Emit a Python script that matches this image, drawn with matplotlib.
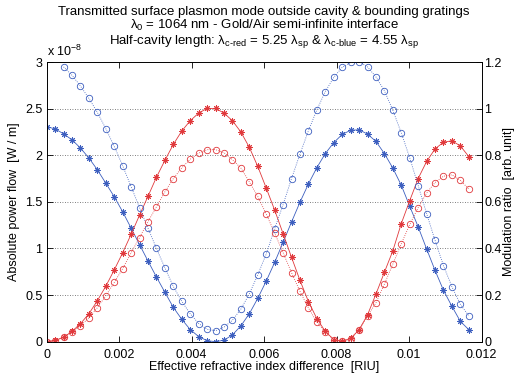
import numpy as np
import matplotlib
matplotlib.use("Agg")
import matplotlib.pyplot as plt

plt.rcParams['font.family'] = ['Liberation Sans', 'DejaVu Sans']
plt.rcParams['mathtext.fontset'] = 'custom'
plt.rcParams['mathtext.rm'] = 'Liberation Sans'
plt.rcParams['mathtext.it'] = 'Liberation Sans'

# Effective refractive index difference [RIU]
dn = [0, 0.000233, 0.000466, 0.000699, 0.000932, 0.001165, 0.001398, 0.001631,
      0.001864, 0.002097, 0.00233, 0.002563, 0.002796, 0.003029, 0.003262,
      0.003495, 0.003728, 0.003961, 0.004194, 0.004427, 0.00466, 0.004893,
      0.005126, 0.005359, 0.005592, 0.005825, 0.006058, 0.006291, 0.006524,
      0.006757, 0.00699, 0.007223, 0.007456, 0.007689, 0.007922, 0.008155,
      0.008388, 0.008621, 0.008854, 0.009087, 0.00932, 0.009553, 0.009786,
      0.010019, 0.010252, 0.010485, 0.010718, 0.010951, 0.011184, 0.011417,
      0.01165]

# Absolute power flow [x1e-8 W/m]
power_blue = [2.305, 2.283, 2.229, 2.165, 2.077, 1.970, 1.844, 1.700, 1.555, 1.393,
              1.218, 1.041, 0.865, 0.694, 0.530, 0.368, 0.240, 0.130, 0.055, 0.011,
              0.000, 0.016, 0.073, 0.170, 0.300, 0.465, 0.650, 0.850, 1.066, 1.284,
              1.496, 1.692, 1.867, 2.018, 2.135, 2.223, 2.268, 2.273, 2.227, 2.148,
              2.018, 1.862, 1.678, 1.453, 1.232, 0.995, 0.765, 0.551, 0.379, 0.218,
              0.129]
power_red = [0.000, 0.014, 0.047, 0.111, 0.193, 0.300, 0.440, 0.595, 0.770, 0.954,
             1.152, 1.358, 1.560, 1.764, 1.945, 2.116, 2.260, 2.370, 2.452, 2.502,
             2.502, 2.452, 2.370, 2.249, 2.085, 1.880, 1.649, 1.412, 1.159, 0.905,
             0.658, 0.431, 0.248, 0.110, 0.023, 0.004, 0.037, 0.127, 0.288, 0.511,
             0.745, 0.975, 1.267, 1.513, 1.750, 1.933, 2.068, 2.140, 2.155, 2.100,
             1.985]

# Modulation ratio [arb. unit]
mod_blue = [np.nan, np.nan, 1.179, 1.143, 1.097, 1.044, 0.984, 0.914, 0.838, 0.755,
            0.665, 0.575, 0.487, 0.400, 0.317, 0.237, 0.173, 0.120, 0.078, 0.053,
            0.047, 0.062, 0.092, 0.140, 0.205, 0.287, 0.376, 0.485, 0.588, 0.700,
            0.805, 0.905, 0.995, 1.073, 1.134, 1.177, 1.198, 1.202, 1.179, 1.136,
            1.077, 0.993, 0.896, 0.789, 0.670, 0.550, 0.435, 0.326, 0.236, 0.160,
            0.111]
mod_red = [0.000, 0.004, 0.020, 0.041, 0.068, 0.103, 0.146, 0.197, 0.254, 0.314,
           0.381, 0.447, 0.515, 0.579, 0.643, 0.700, 0.746, 0.783, 0.809, 0.824,
           0.824, 0.811, 0.781, 0.745, 0.686, 0.623, 0.548, 0.466, 0.382, 0.296,
           0.216, 0.145, 0.084, 0.042, 0.009, 0.001, 0.011, 0.051, 0.110, 0.167,
           0.247, 0.333, 0.420, 0.503, 0.575, 0.638, 0.683, 0.710, 0.716, 0.692,
           0.655]

xticks = [0, 0.002, 0.004, 0.006, 0.008, 0.010, 0.012]
xticklabels = ['0', '0.002', '0.004', '0.006', '0.008', '0.01', '0.012']
lticks = [0, 0.5, 1, 1.5, 2, 2.5, 3]
lticklabels = ['0', '0.5', '1', '1.5', '2', '2.5', '3']
rticks = [0, 0.2, 0.4, 0.6, 0.8, 1.0, 1.2]
rticklabels = ['0', '0.2', '0.4', '0.6', '0.8', '1', '1.2']

blue = '#3d5fbf'
red = '#e0393c'
star = (8, 2, 0)

W, H = 516, 377
fig = plt.figure(figsize=(W / 100, H / 100), dpi=100)
ax = fig.add_axes([46.7 / W, 35.3 / H, (481.5 - 46.7) / W, (341.7 - 62) / H])
ax2 = ax.twinx()

ax.plot(dn, power_blue, color=blue, lw=0.6, marker=star, ms=4.5, mew=0.7)
ax.plot(dn, power_red, color=red, lw=0.6, marker=star, ms=4.5, mew=0.7)
ax2.plot(dn, mod_blue, color=blue, lw=0.6, ls=':', marker='o', ms=4.6,
         mfc='none', mew=0.6)
ax2.plot(dn, mod_red, color=red, lw=0.6, ls=':', marker='o', ms=4.6,
         mfc='none', mew=0.6)

ax.set_xlim(0, 0.012)
ax.set_ylim(0, 3)
ax2.set_ylim(0, 1.2)
ax.set_xticks(xticks)
ax.set_xticklabels(xticklabels)
ax.set_yticks(lticks)
ax.set_yticklabels(lticklabels)
ax2.set_yticks(rticks)
ax2.set_yticklabels(rticklabels)

for y in lticks[1:-1]:
    ax.axhline(y, color='#555555', lw=0.6, ls=(0, (1, 2)), zorder=0)

fs = 9
ax.tick_params(axis='x', direction='in', top=True, length=4, width=0.6,
               labelsize=fs, pad=5.5)
ax.tick_params(axis='y', direction='in', length=4, width=0.6, labelsize=fs, pad=3)
ax2.tick_params(axis='y', direction='in', length=4, width=0.6, labelsize=fs, pad=2)
for a in (ax, ax2):
    for s in a.spines.values():
        s.set_linewidth(0.6)

ax.set_xlabel('Effective refractive index difference  [RIU]', fontsize=fs, labelpad=0)
ax.set_ylabel('Absolute power flow  [W / m]', fontsize=fs, labelpad=4)
ax2.set_ylabel('Modulation ratio  [arb. unit]', fontsize=fs, labelpad=1)

ax.text(0.0, 1.012, r'x 10$^{-8}$', transform=ax.transAxes, ha='left',
        va='bottom', fontsize=fs)

cx = (46.7 + 481.5) / 2 / W
tfs = 9.5
fig.text(cx, 1 - 15 / H, 'Transmitted surface plasmon mode outside cavity & bounding gratings',
         ha='center', va='baseline', fontsize=tfs)
fig.text(cx, 1 - 28.5 / H, r'λ$_0$ = 1064 nm - Gold/Air semi-infinite interface',
         ha='center', va='baseline', fontsize=tfs)
fig.text(cx, 1 - 44 / H,
         r'Half-cavity length: λ$_{\mathregular{c‐red}}$ = 5.25 λ$_{\mathregular{sp}}$ & '
         r'λ$_{\mathregular{c‐blue}}$ = 4.55 λ$_{\mathregular{sp}}$',
         ha='center', va='baseline', fontsize=tfs)

fig.savefig('out.png', dpi=100)
